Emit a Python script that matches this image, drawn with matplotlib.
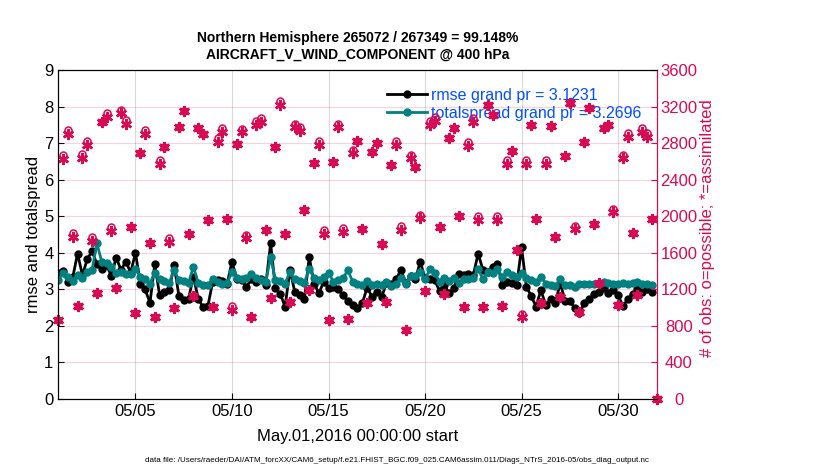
import numpy as np
import pandas as pd
import matplotlib
matplotlib.use("Agg")
import matplotlib.pyplot as plt
import matplotlib.dates as mdates

plt.rcParams['font.family'] = ['Liberation Sans', 'DejaVu Sans']

# 6-hourly bins, May 1 2016 00Z onwards (last bin has no obs)
times = pd.date_range('2016-05-01', periods=125, freq='6h')

rmse = [3.44, 3.50, 3.21, 3.33, 3.98, 3.39, 3.82, 4.05, 3.69, 3.56, 3.66, 3.37,
        3.87, 3.53, 3.76, 3.46, 4.00, 3.16, 3.00, 2.63, 3.69, 2.84, 2.94, 2.98,
        3.67, 2.82, 2.71, 2.75, 3.35, 2.75, 2.51, 2.54, 3.21, 3.25, 3.24, 3.16,
        3.76, 3.27, 3.25, 3.07, 3.27, 3.21, 3.27, 3.12, 4.26, 3.03, 2.87, 2.53,
        3.53, 2.94, 2.84, 2.73, 3.89, 3.16, 2.89, 3.21, 3.03, 3.07, 3.00, 2.84,
        2.69, 2.57, 2.48, 2.62, 3.05, 2.80, 2.94, 2.78, 3.18, 3.15, 3.27, 3.53,
        3.18, 3.36, 3.27, 3.76, 3.30, 3.27, 3.25, 2.96, 3.12, 2.89, 3.05, 3.42,
        3.39, 3.42, 3.39, 3.98, 3.53, 3.48, 3.62, 3.69, 3.12, 3.21, 3.18, 3.12,
        4.15, 3.07, 2.82, 2.53, 2.98, 2.57, 2.73, 2.62, 3.18, 2.69, 2.69, 2.48,
        2.36, 2.62, 2.73, 2.87, 2.94, 3.03, 2.89, 2.98, 2.84, 2.54, 2.73, 2.87,
        3.00, 2.94, 3.00, 2.94, np.nan]

spread = [3.25, 3.46, 3.35, 3.24, 3.39, 3.30, 3.48, 3.53, 4.26, 3.76, 3.73, 3.60,
          3.44, 3.48, 3.42, 3.41, 3.57, 3.35, 3.27, 3.16, 3.46, 3.27, 3.24, 3.18,
          3.53, 3.25, 3.24, 3.18, 3.62, 3.18, 3.13, 3.11, 3.27, 3.21, 3.16, 3.18,
          3.48, 3.30, 3.27, 3.30, 3.42, 3.30, 3.25, 3.21, 3.89, 3.25, 3.24, 3.16,
          3.48, 3.27, 3.24, 3.18, 3.57, 3.30, 3.25, 3.35, 3.46, 3.21, 3.25, 3.30,
          3.53, 3.21, 3.16, 3.12, 3.24, 3.12, 3.15, 3.12, 3.21, 3.09, 3.16, 3.30,
          3.16, 3.36, 3.36, 3.48, 3.27, 3.55, 3.44, 3.21, 3.30, 3.24, 3.30, 3.18,
          3.27, 3.27, 3.30, 3.57, 3.27, 3.48, 3.46, 3.55, 3.35, 3.48, 3.39, 3.35,
          3.44, 3.30, 3.25, 3.21, 3.35, 3.16, 3.12, 3.09, 3.27, 3.12, 3.12, 3.07,
          3.15, 3.15, 3.14, 3.15, 3.16, 3.21, 3.18, 3.16, 3.16, 3.18, 3.16, 3.18,
          3.21, 3.16, 3.15, 3.12, np.nan]

obs_used = [864, 2625, 2900, 1772, 1017, 2636, 2780, 1732, 1160, 3030, 3085, 1841,
            1214, 3128, 3008, 1880, 940, 2695, 2900, 1710, 900, 2571, 2760, 1721,
            992, 2972, 3154, 1805, 1127, 2961, 2899, 1958, 1003, 2815, 2924, 1965,
            973, 2790, 2917, 1757, 900, 2998, 3034, 1849, 1101, 2753, 3216, 1805,
            1064, 2972, 2935, 2068, 1192, 2585, 2779, 1805, 864, 2596, 2972, 1830,
            872, 2688, 2826, 1856, 1047, 2706, 2797, 1696, 1064, 2560, 2779, 1849,
            755, 2633, 2542, 1976, 1185, 2998, 3045, 1885, 1149, 2852, 2961, 2002,
            1010, 2768, 3034, 1958, 1010, 3216, 3107, 1958, 1014, 2571, 2717, 1630,
            894, 2571, 2998, 1965, 1054, 2571, 2987, 1776, 1112, 2658, 3242, 1856,
            955, 2815, 3180, 1915, 1266, 2961, 2998, 2042, 1028, 2633, 2870, 1820,
            1138, 2925, 2870, 1965, 0]

# bins where the 'o' (possible) sits visibly above the '*' (assimilated)
gap_idx = [1, 2, 3, 5, 6, 7, 10, 11, 13, 14, 18, 21, 23, 33, 34, 36, 38, 39,
           41, 42, 46, 49, 50, 54, 55, 58, 59, 61, 70, 71, 73, 75, 77, 78,
           85, 86, 87, 91, 93, 96, 97, 101, 107, 115, 117, 118, 121, 122]
gap_size = 40

obs_poss = np.array(obs_used, float)
obs_poss[gap_idx] += gap_size

red = (215/255, 10/255, 83/255)
teal = (0, 128/255, 128/255)

fig = plt.figure(figsize=(8.3, 4.7), dpi=100)
ax = fig.add_axes([0.0702, 0.151, 0.721, 0.700])

ax.plot(times, rmse, '-o', color='black', lw=2, ms=5,
        label='rmse grand pr = 3.1231')
ax.plot(times, spread, '-o', color=teal, lw=2, ms=5,
        label='totalspread grand pr = 3.2696')

ax.set_xlim(pd.Timestamp('2016-05-01'), pd.Timestamp('2016-06-01'))
ax.set_ylim(0, 9)
ax.set_yticks(range(10))
ax.xaxis.set_major_locator(mdates.DayLocator(bymonthday=[5, 10, 15, 20, 25, 30]))
ax.xaxis.set_major_formatter(mdates.DateFormatter('%m/%d'))
ax.tick_params(direction='in', labelsize=12, length=4, top=False)
ax.grid(axis='x', color='0.85', lw=0.8)
ax.set_ylabel('rmse and totalspread', fontsize=12, labelpad=2)
ax.set_xlabel('May.01,2016 00:00:00 start', fontsize=12, labelpad=7)

leg = ax.legend(loc='upper right', bbox_to_anchor=(0.99, 0.975), frameon=False,
                fontsize=11.5, handlelength=2.5, borderaxespad=0.2,
                labelspacing=0.2, handletextpad=0.25)
for txt in leg.get_texts():
    txt.set_color('#0050ff')

ax2 = ax.twinx()
ax2.plot(times, obs_poss, 'o', mfc='none', mec=red, ms=5, mew=1.1, clip_on=False)
ax2.plot(times, obs_used, marker=(6, 2, 0), ls='none', color=red, ms=8, mew=1.8,
         clip_on=False)
ax2.set_ylim(0, 3600)
ax2.set_yticks(range(0, 3601, 400))
ax2.tick_params(direction='in', labelsize=12, colors=red, length=4, pad=16)
for lab in ax2.get_yticklabels():
    lab.set_horizontalalignment('center')
ax2.grid(axis='y', color=red, alpha=0.18, lw=0.8)
ax2.spines['right'].set_color(red)
ax2.set_ylabel('# of obs: o=possible; *=assimilated', fontsize=12, color=red,
               rotation=90)
ax2.yaxis.set_label_coords(1.072, 0.52)

fig.text(0.431, 0.868, 'Northern Hemisphere 265072 / 267349 = 99.148%\n'
         'AIRCRAFT_V_WIND_COMPONENT @ 400 hPa', ha='center', va='bottom',
         fontsize=10, fontweight='bold', linespacing=1.25)
fig.text(0.478, 0.018, 'data file: /Users/raeder/DAI/ATM_forcXX/CAM6_setup/'
         'f.e21.FHIST_BGC.f09_025.CAM6assim.011/Diags_NTrS_2016-05/obs_diag_output.nc',
         ha='center', fontsize=5.8)

fig.savefig('out.png', dpi=100)
